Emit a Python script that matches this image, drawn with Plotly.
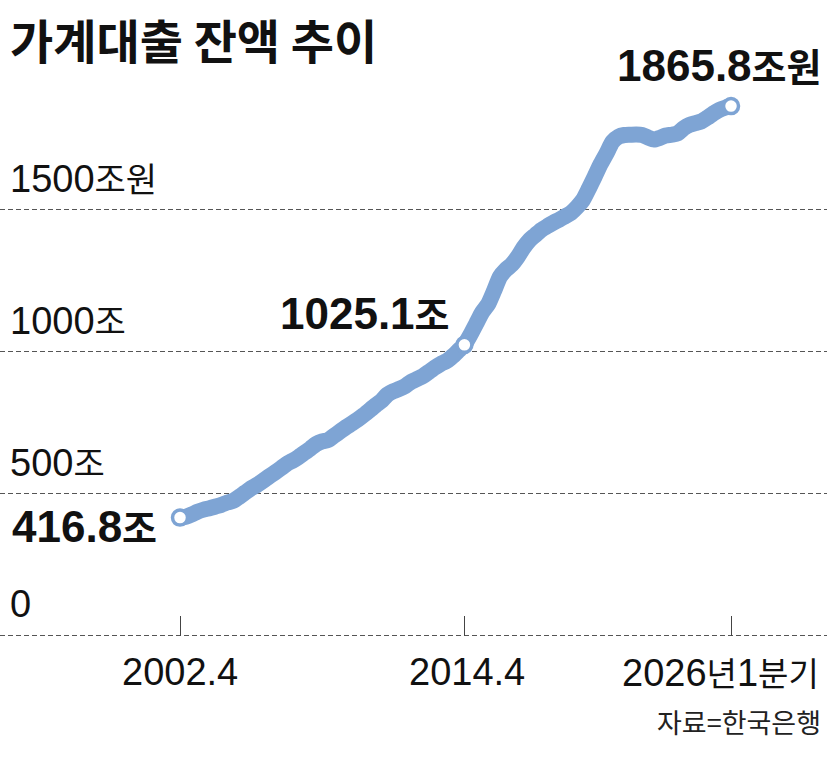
import plotly.graph_objects as go

# 가계대출 잔액 (조원), 2002년 4분기 ~ 2026년 1분기, 분기별
quarters = [f"{y}.{q}" for y in range(2002, 2027) for q in range(1, 5)][3:-3]
balance = [
    416.8, 420, 428, 438, 445, 450, 456, 462, 470, 476,
    490, 505, 520, 532, 546, 561, 575, 590, 606, 617,
    630, 645, 660, 676, 685, 690, 705, 720, 735, 748,
    762, 778, 795, 812, 828, 850, 862, 870, 880, 895,
    905, 915, 930, 945, 958, 968, 985, 1005, 1025.1, 1060,
    1100, 1140, 1168, 1215, 1265, 1290, 1308, 1335, 1368, 1394,
    1412, 1430, 1443, 1455, 1466, 1478, 1490, 1510, 1535, 1575,
    1618, 1662, 1700, 1740, 1758, 1764, 1765, 1766, 1764, 1755,
    1748, 1754, 1762, 1765, 1770, 1788, 1800, 1806, 1812, 1825,
    1840, 1852, 1860, 1865.8,
]
highlight_idx = [0, 48, len(balance) - 1]
highlight_text = ["416.8조", "1025.1조", "1865.8조원"]

tick_quarters = ["2002.4", "2014.4", "2026.1"]
tick_text = ["2002.4", "2014.4", "2026년1분기"]
y_ticks = [0, 500, 1000, 1500]
y_text = ["0", "500조", "1000조", "1500조원"]

BLUE = "#7ea4d4"
NUM = "Liberation Sans, Noto Sans CJK KR"
KR = "Noto Sans CJK KR"


def mixed(label, kr_size):
    # 한글만 크기를 따로 맞춤
    out = ""
    for ch in label:
        if "\uac00" <= ch <= "\ud7a3":
            out += f"<span style='font-size:{kr_size}px;font-family:\"{KR}\"'>{ch}</span>"
        else:
            out += ch
    return out


fig = go.Figure()
fig.add_trace(go.Scatter(
    x=quarters, y=balance, mode="lines",
    line=dict(color=BLUE, width=16, shape="spline", smoothing=0.6),
    hoverinfo="skip",
))
fig.add_trace(go.Scatter(
    x=[quarters[i] for i in highlight_idx],
    y=[balance[i] for i in highlight_idx],
    mode="markers",
    marker=dict(size=15, color="white", line=dict(color=BLUE, width=3.5)),
    hoverinfo="skip",
))

annotations = []
# 제목
annotations.append(dict(
    text="<b>가계대출 잔액 추이</b>", xref="paper", yref="paper",
    x=8 / 827, y=1 - 2 / 762, xanchor="left", yanchor="top", showarrow=False,
    font=dict(family=KR, size=47, color="#111"),
))
# y축 라벨
for v, t in zip(y_ticks, y_text):
    annotations.append(dict(
        text=mixed(t, 34), xref="paper", yref="y", x=8 / 827, y=v,
        xanchor="left", yanchor="middle", yshift=32, showarrow=False,
        font=dict(family=NUM, size=38, color="#111"),
    ))
# x축 라벨 (카테고리 축이라 위치는 순번으로)
for q, t, dx in zip(tick_quarters, tick_text, [0, 3, -11]):
    annotations.append(dict(
        text=mixed(t, 33), xref="x", yref="y", x=quarters.index(q), y=0,
        xanchor="center", yanchor="middle", xshift=dx, yshift=-36,
        showarrow=False, font=dict(family=NUM, size=38, color="#111"),
    ))
# 값 라벨
for i, t, dx, dy in zip(highlight_idx, highlight_text, [-21, -12, 93], [-8, 32, 42]):
    annotations.append(dict(
        text="<b>" + mixed(t, 38) + "</b>", xref="x", yref="y",
        x=i, y=balance[i], xanchor="right", yanchor="middle",
        xshift=dx, yshift=dy, showarrow=False,
        font=dict(family=NUM, size=44, color="#111"),
    ))
# 출처
annotations.append(dict(
    text="자료=한국은행", xref="paper", yref="paper",
    x=823 / 827, y=1 - 721 / 762, xanchor="right", yanchor="middle",
    showarrow=False, font=dict(family=KR, size=27, color="#222"),
))

fig.update_layout(
    width=827, height=762,
    margin=dict(l=0, r=0, t=0, b=0),
    paper_bgcolor="white", plot_bgcolor="white",
    showlegend=False,
    annotations=annotations,
    xaxis=dict(
        type="category", range=[-30.38, 109.2],
        tickvals=tick_quarters, showticklabels=False,
        ticks="inside", ticklen=20, tickwidth=1.3, tickcolor="#444",
        showgrid=False, zeroline=False, showline=False,
        anchor="free", position=(762 - 636) / 762,
        fixedrange=True,
    ),
    yaxis=dict(
        range=[-443.7, 2239.4], tickvals=y_ticks, showticklabels=False,
        showgrid=True, gridcolor="#555", gridwidth=1.4, griddash="5px,3px",
        zeroline=False, showline=False, fixedrange=True,
    ),
)

fig.write_html("out.html", config={"displayModeBar": False},
               post_script="document.body.style.margin='0';")
